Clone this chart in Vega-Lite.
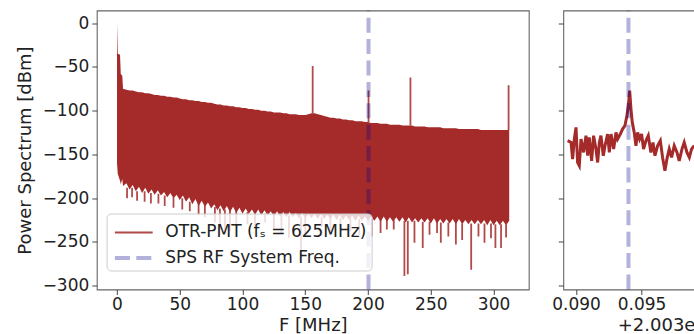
{
  "$schema": "https://vega.github.io/schema/vega-lite/v6.json",
  "background": "white",
  "padding": {"left": 14.8, "top": 7.5, "right": 0, "bottom": 0},
  "datasets": {
    "band": [
      {"f":0,"hi":0,"lo":-160},{"f":0.6,"hi":-35,"lo":-172},{"f":2.4,"hi":-36,"lo":-180},{"f":3.0,"hi":-58,"lo":-184},{"f":4.2,"hi":-60,"lo":-178},{"f":4.8,"hi":-75,"lo":-186},
      {"f":7.5,"hi":-76,"lo":-183},{"f":10,"hi":-77,"lo":-190},{"f":12.5,"hi":-77,"lo":-185},{"f":15,"hi":-78,"lo":-192},{"f":17.5,"hi":-79,"lo":-187},{"f":20,"hi":-79,"lo":-194},
      {"f":22.5,"hi":-80,"lo":-188},{"f":25,"hi":-80,"lo":-195},{"f":27.5,"hi":-81,"lo":-190},{"f":30,"hi":-82,"lo":-196},{"f":32.5,"hi":-82,"lo":-191},{"f":35,"hi":-83,"lo":-197},
      {"f":37.5,"hi":-83,"lo":-193},{"f":40,"hi":-84,"lo":-199},{"f":42.5,"hi":-84,"lo":-194},{"f":45,"hi":-85,"lo":-200},{"f":47.5,"hi":-85,"lo":-196},{"f":50,"hi":-86,"lo":-202},
      {"f":52.5,"hi":-87,"lo":-197},{"f":55,"hi":-87,"lo":-204},{"f":57.5,"hi":-88,"lo":-199},{"f":60,"hi":-88,"lo":-207},{"f":62.5,"hi":-89,"lo":-201},{"f":65,"hi":-89,"lo":-209},
      {"f":67.5,"hi":-90,"lo":-203},{"f":70,"hi":-90,"lo":-210},{"f":72.5,"hi":-91,"lo":-205},{"f":75,"hi":-91,"lo":-212},{"f":77.5,"hi":-92,"lo":-207},{"f":80,"hi":-93,"lo":-214},
      {"f":82.5,"hi":-93,"lo":-208},{"f":85,"hi":-94,"lo":-215},{"f":87.5,"hi":-94,"lo":-209},{"f":90,"hi":-95,"lo":-216},{"f":92.5,"hi":-95,"lo":-210},{"f":95,"hi":-96,"lo":-217},
      {"f":97.5,"hi":-96,"lo":-211},{"f":100,"hi":-97,"lo":-218},{"f":102.5,"hi":-97,"lo":-212},{"f":105,"hi":-98,"lo":-218},{"f":107.5,"hi":-98,"lo":-213},{"f":110,"hi":-99,"lo":-219},
      {"f":112.5,"hi":-99,"lo":-213},{"f":115,"hi":-100,"lo":-220},{"f":117.5,"hi":-100,"lo":-214},{"f":120,"hi":-101,"lo":-220},{"f":122.5,"hi":-101,"lo":-215},{"f":125,"hi":-102,"lo":-221},
      {"f":127.5,"hi":-102,"lo":-215},{"f":130,"hi":-102,"lo":-221},{"f":132.5,"hi":-103,"lo":-216},{"f":135,"hi":-103,"lo":-222},{"f":137.5,"hi":-104,"lo":-216},{"f":140,"hi":-104,"lo":-222},
      {"f":142.5,"hi":-104,"lo":-217},{"f":145,"hi":-105,"lo":-223},{"f":147.5,"hi":-105,"lo":-217},{"f":150,"hi":-105,"lo":-223},{"f":152.5,"hi":-104,"lo":-218},{"f":155,"hi":-103,"lo":-223},
      {"f":157.5,"hi":-103,"lo":-218},{"f":160,"hi":-104,"lo":-224},{"f":162.5,"hi":-105,"lo":-218},{"f":165,"hi":-106,"lo":-224},{"f":167.5,"hi":-107,"lo":-219},{"f":170,"hi":-108,"lo":-224},
      {"f":172.5,"hi":-108,"lo":-219},{"f":175,"hi":-109,"lo":-225},{"f":177.5,"hi":-109,"lo":-219},{"f":180,"hi":-110,"lo":-225},{"f":182.5,"hi":-110,"lo":-220},{"f":185,"hi":-111,"lo":-225},
      {"f":187.5,"hi":-111,"lo":-220},{"f":190,"hi":-112,"lo":-226},{"f":192.5,"hi":-112,"lo":-220},{"f":195,"hi":-112,"lo":-226},{"f":197.5,"hi":-113,"lo":-221},{"f":200,"hi":-113,"lo":-226},
      {"f":202.5,"hi":-114,"lo":-221},{"f":205,"hi":-114,"lo":-226},{"f":207.5,"hi":-114,"lo":-221},{"f":210,"hi":-115,"lo":-227},{"f":212.5,"hi":-115,"lo":-221},{"f":215,"hi":-115,"lo":-227},
      {"f":217.5,"hi":-116,"lo":-222},{"f":220,"hi":-116,"lo":-227},{"f":222.5,"hi":-116,"lo":-222},{"f":225,"hi":-116,"lo":-227},{"f":227.5,"hi":-117,"lo":-222},{"f":230,"hi":-117,"lo":-228},
      {"f":232.5,"hi":-117,"lo":-222},{"f":235,"hi":-117,"lo":-228},{"f":237.5,"hi":-118,"lo":-223},{"f":240,"hi":-118,"lo":-228},{"f":242.5,"hi":-118,"lo":-223},{"f":245,"hi":-118,"lo":-228},
      {"f":247.5,"hi":-119,"lo":-223},{"f":250,"hi":-119,"lo":-229},{"f":252.5,"hi":-119,"lo":-223},{"f":255,"hi":-119,"lo":-229},{"f":257.5,"hi":-119,"lo":-224},{"f":260,"hi":-120,"lo":-229},
      {"f":262.5,"hi":-120,"lo":-224},{"f":265,"hi":-120,"lo":-229},{"f":267.5,"hi":-120,"lo":-224},{"f":270,"hi":-120,"lo":-230},{"f":272.5,"hi":-121,"lo":-224},{"f":275,"hi":-121,"lo":-230},
      {"f":277.5,"hi":-121,"lo":-225},{"f":280,"hi":-121,"lo":-230},{"f":282.5,"hi":-121,"lo":-225},{"f":285,"hi":-121,"lo":-230},{"f":287.5,"hi":-121,"lo":-225},{"f":290,"hi":-122,"lo":-230},
      {"f":292.5,"hi":-122,"lo":-225},{"f":295,"hi":-122,"lo":-231},{"f":297.5,"hi":-122,"lo":-225},{"f":300,"hi":-122,"lo":-231},{"f":302.5,"hi":-122,"lo":-226},{"f":305,"hi":-122,"lo":-231},
      {"f":307.5,"hi":-122,"lo":-226},{"f":310,"hi":-122,"lo":-231},{"f":312.5,"hi":-122,"lo":-226}
    ],
    "lines": [
      {"f":8,"from":-188,"to":-200,"series":"OTR-PMT (fₛ = 625MHz)"},{"f":12,"from":-188,"to":-199,"series":"OTR-PMT (fₛ = 625MHz)"},{"f":16,"from":-192,"to":-203,"series":"OTR-PMT (fₛ = 625MHz)"},
      {"f":22,"from":-192,"to":-204,"series":"OTR-PMT (fₛ = 625MHz)"},{"f":27,"from":-194,"to":-206,"series":"OTR-PMT (fₛ = 625MHz)"},{"f":33,"from":-195,"to":-206,"series":"OTR-PMT (fₛ = 625MHz)"},
      {"f":38,"from":-197,"to":-209,"series":"OTR-PMT (fₛ = 625MHz)"},{"f":45,"from":-199,"to":-211,"series":"OTR-PMT (fₛ = 625MHz)"},{"f":52,"from":-200,"to":-213,"series":"OTR-PMT (fₛ = 625MHz)"},
      {"f":58,"from":-204,"to":-215,"series":"OTR-PMT (fₛ = 625MHz)"},{"f":65,"from":-206,"to":-219,"series":"OTR-PMT (fₛ = 625MHz)"},{"f":70,"from":-208,"to":-222,"series":"OTR-PMT (fₛ = 625MHz)"},
      {"f":78,"from":-210,"to":-228,"series":"OTR-PMT (fₛ = 625MHz)"},{"f":82,"from":-212,"to":-236,"series":"OTR-PMT (fₛ = 625MHz)"},{"f":86,"from":-213,"to":-240,"series":"OTR-PMT (fₛ = 625MHz)"},
      {"f":90,"from":-214,"to":-238,"series":"OTR-PMT (fₛ = 625MHz)"},{"f":95,"from":-215,"to":-232,"series":"OTR-PMT (fₛ = 625MHz)"},{"f":104,"from":-216,"to":-230,"series":"OTR-PMT (fₛ = 625MHz)"},
      {"f":110,"from":-217,"to":-234,"series":"OTR-PMT (fₛ = 625MHz)"},{"f":118,"from":-218,"to":-228,"series":"OTR-PMT (fₛ = 625MHz)"},{"f":125,"from":-219,"to":-236,"series":"OTR-PMT (fₛ = 625MHz)"},
      {"f":131,"from":-219,"to":-240,"series":"OTR-PMT (fₛ = 625MHz)"},{"f":137,"from":-220,"to":-245,"series":"OTR-PMT (fₛ = 625MHz)"},{"f":146.6,"from":-221,"to":-259,"series":"OTR-PMT (fₛ = 625MHz)"},
      {"f":150,"from":-221,"to":-240,"series":"OTR-PMT (fₛ = 625MHz)"},{"f":163,"from":-222,"to":-233,"series":"OTR-PMT (fₛ = 625MHz)"},{"f":170,"from":-222,"to":-238,"series":"OTR-PMT (fₛ = 625MHz)"},
      {"f":178,"from":-223,"to":-236,"series":"OTR-PMT (fₛ = 625MHz)"},{"f":186,"from":-223,"to":-238,"series":"OTR-PMT (fₛ = 625MHz)"},{"f":193,"from":-224,"to":-242,"series":"OTR-PMT (fₛ = 625MHz)"},
      {"f":203,"from":-224,"to":-244,"series":"OTR-PMT (fₛ = 625MHz)"},{"f":210,"from":-225,"to":-240,"series":"OTR-PMT (fₛ = 625MHz)"},{"f":215,"from":-225,"to":-236,"series":"OTR-PMT (fₛ = 625MHz)"},
      {"f":220.5,"from":-225,"to":-236,"series":"OTR-PMT (fₛ = 625MHz)"},{"f":229,"from":-226,"to":-289,"series":"OTR-PMT (fₛ = 625MHz)"},{"f":231.7,"from":-226,"to":-287,"series":"OTR-PMT (fₛ = 625MHz)"},
      {"f":237,"from":-226,"to":-251,"series":"OTR-PMT (fₛ = 625MHz)"},{"f":243.6,"from":-227,"to":-257,"series":"OTR-PMT (fₛ = 625MHz)"},{"f":249,"from":-227,"to":-242,"series":"OTR-PMT (fₛ = 625MHz)"},
      {"f":255,"from":-227,"to":-240,"series":"OTR-PMT (fₛ = 625MHz)"},{"f":258,"from":-228,"to":-251,"series":"OTR-PMT (fₛ = 625MHz)"},{"f":264,"from":-228,"to":-244,"series":"OTR-PMT (fₛ = 625MHz)"},
      {"f":270,"from":-228,"to":-253,"series":"OTR-PMT (fₛ = 625MHz)"},{"f":275,"from":-229,"to":-248,"series":"OTR-PMT (fₛ = 625MHz)"},{"f":282.2,"from":-229,"to":-282,"series":"OTR-PMT (fₛ = 625MHz)"},
      {"f":288,"from":-229,"to":-244,"series":"OTR-PMT (fₛ = 625MHz)"},{"f":292.8,"from":-229,"to":-251,"series":"OTR-PMT (fₛ = 625MHz)"},{"f":298,"from":-229,"to":-246,"series":"OTR-PMT (fₛ = 625MHz)"},
      {"f":301.5,"from":-230,"to":-257,"series":"OTR-PMT (fₛ = 625MHz)"},{"f":306,"from":-230,"to":-257,"series":"OTR-PMT (fₛ = 625MHz)"},{"f":310,"from":-230,"to":-245,"series":"OTR-PMT (fₛ = 625MHz)"},
      {"f":155.9,"from":-103,"to":-49,"series":"OTR-PMT (fₛ = 625MHz)"},{"f":200.4,"from":-113,"to":-77,"series":"OTR-PMT (fₛ = 625MHz)"},{"f":233.8,"from":-117,"to":-62,"series":"OTR-PMT (fₛ = 625MHz)"},
      {"f":312,"from":-122,"to":-71,"series":"OTR-PMT (fₛ = 625MHz)"},
      {"f":200.394,"from":-304.5,"to":14.6,"series":"SPS RF System Freq."}
    ],
    "zoom": [
      {"x":0.08936,"p":-134.3},{"x":0.08962,"p":-136.3},{"x":0.08974,"p":-155.4},{"x":0.08987,"p":-132.5},{"x":0.09000,"p":-119.1},{"x":0.09012,"p":-159.2},
      {"x":0.09025,"p":-163},{"x":0.09038,"p":-132.5},{"x":0.09058,"p":-147.7},{"x":0.09076,"p":-128.6},{"x":0.09089,"p":-151.5},{"x":0.09101,"p":-130.5},
      {"x":0.09119,"p":-157.3},{"x":0.09134,"p":-128.6},{"x":0.09152,"p":-143.9},{"x":0.09165,"p":-159.2},{"x":0.09178,"p":-136.3},{"x":0.09190,"p":-128.6},
      {"x":0.09208,"p":-151.5},{"x":0.09221,"p":-140.1},{"x":0.09241,"p":-126.7},{"x":0.09254,"p":-147.7},{"x":0.09267,"p":-126.7},{"x":0.09287,"p":-143.9},
      {"x":0.09305,"p":-124.8},{"x":0.09317,"p":-132.5},{"x":0.09338,"p":-126.7},{"x":0.09355,"p":-121},{"x":0.09373,"p":-117.2},{"x":0.09388,"p":-105.7},
      {"x":0.09399,"p":-94.3},{"x":0.09409,"p":-77},{"x":0.09419,"p":-98.1},{"x":0.09429,"p":-113.4},{"x":0.09444,"p":-124.8},{"x":0.09457,"p":-140.1},
      {"x":0.09470,"p":-124.8},{"x":0.09485,"p":-132.5},{"x":0.09500,"p":-126.7},{"x":0.09515,"p":-143.9},{"x":0.09533,"p":-134.4},{"x":0.09551,"p":-128.6},
      {"x":0.09571,"p":-147.7},{"x":0.09587,"p":-136.3},{"x":0.09602,"p":-151.5},{"x":0.09622,"p":-140.1},{"x":0.09643,"p":-134.4},{"x":0.09660,"p":-153.4},
      {"x":0.09678,"p":-168.7},{"x":0.09693,"p":-155.4},{"x":0.09711,"p":-143.9},{"x":0.09729,"p":-153.4},{"x":0.09749,"p":-140.1},{"x":0.09770,"p":-147.7},
      {"x":0.09787,"p":-157.3},{"x":0.09808,"p":-143.9},{"x":0.09825,"p":-136.3},{"x":0.09846,"p":-147.7},{"x":0.09864,"p":-153.4},{"x":0.09881,"p":-143.9},
      {"x":0.09901,"p":-140}
    ],
    "zoomline": [{"x":0.094,"from":-304.5,"to":14.6}]
  },
  "spacing": 34.5,
  "bounds": "flush",
  "resolve": {
    "scale": {"color":"independent","strokeDash":"independent","strokeWidth":"independent","opacity":"independent"},
    "legend": {"color":"independent","strokeDash":"independent","strokeWidth":"independent","opacity":"independent"}
  },
  "hconcat": [
    {
      "width": 432,
      "height": 279,
      "layer": [
        {
          "data": {"name": "band"},
          "mark": {"type": "area", "color": "#a52a2a", "interpolate": "linear"},
          "encoding": {
            "x": {"field": "f", "type": "quantitative",
              "scale": {"domain": [-16.1, 328.1], "nice": false, "zero": false},
              "axis": {"values": [0,50,100,150,200,250,300], "title": "F [MHz]", "titleY": 41, "titleBaseline": "alphabetic", "labelFlush": false}},
            "y": {"field": "hi", "type": "quantitative",
              "scale": {"domain": [-304.5, 14.6], "nice": false, "zero": false},
              "axis": {"values": [-300,-250,-200,-150,-100,-50,0], "title": "Power Spectrum [dBm]", "titleX": -66.5, "titleY": 139.5, "titleBaseline": "alphabetic", "labelPadding": 3, "labelFlush": false}},
            "y2": {"field": "lo"}
          }
        },
        {
          "data": {"name": "lines"},
          "mark": {"type": "rule"},
          "encoding": {
            "x": {"field": "f", "type": "quantitative"},
            "y": {"field": "from", "type": "quantitative"},
            "y2": {"field": "to"},
            "color": {"field": "series", "type": "nominal",
              "scale": {"domain": ["OTR-PMT (fₛ = 625MHz)", "SPS RF System Freq."], "range": ["#a52a2a", "#00008b"]},
              "legend": {"title": null}},
            "strokeDash": {"field": "series", "type": "nominal",
              "scale": {"domain": ["OTR-PMT (fₛ = 625MHz)", "SPS RF System Freq."], "range": [[1,0],[15,6.4]]},
              "legend": {"title": null}},
            "strokeWidth": {"field": "series", "type": "nominal",
              "scale": {"domain": ["OTR-PMT (fₛ = 625MHz)", "SPS RF System Freq."], "range": [1.8, 4]},
              "legend": {"title": null}},
            "opacity": {"field": "series", "type": "nominal",
              "scale": {"domain": ["OTR-PMT (fₛ = 625MHz)", "SPS RF System Freq."], "range": [0.85, 0.3]},
              "legend": {"title": null}}
          }
        }
      ]
    },
    {
      "width": 131,
      "height": 279,
      "layer": [
        {
          "data": {"name": "zoom"},
          "mark": {"type": "line", "color": "#a52a2a", "strokeWidth": 3, "clip": true},
          "encoding": {
            "x": {"field": "x", "type": "quantitative",
              "scale": {"domain": [0.08903, 0.09902], "nice": false, "zero": false},
              "axis": {"values": [0.09, 0.095], "format": ".3f", "title": "+2.003e2", "titleX": 54, "titleAlign": "left", "titleAnchor": "start", "titleY": 41, "titleBaseline": "alphabetic", "labelFlush": false}},
            "y": {"field": "p", "type": "quantitative",
              "scale": {"domain": [-304.5, 14.6], "nice": false, "zero": false},
              "axis": {"values": [-300,-250,-200,-150,-100,-50,0], "labels": false, "title": null}}
          }
        },
        {
          "data": {"name": "zoomline"},
          "mark": {"type": "rule", "color": "#00008b", "strokeOpacity": 0.3, "strokeWidth": 4, "strokeDash": [15, 6.4]},
          "encoding": {
            "x": {"field": "x", "type": "quantitative"},
            "y": {"field": "from", "type": "quantitative"},
            "y2": {"field": "to"}
          }
        }
      ]
    }
  ],
  "config": {
    "font": "DejaVu Sans",
    "view": {"stroke": "#666666", "strokeWidth": 1.1},
    "axis": {
      "labelFont": "DejaVu Sans", "titleFont": "DejaVu Sans",
      "labelFontSize": 17, "titleFontSize": 18, "titleFontWeight": "normal",
      "labelColor": "#222222", "titleColor": "#222222",
      "tickColor": "#444444", "tickSize": 5, "labelPadding": 2,
      "domain": false, "grid": false, "labelOverlap": false
    },
    "legend": {
      "orient": "none", "legendX": 9.8, "legendY": 203,
      "symbolType": "M-1.4,0H1.4", "symbolSize": 729,
      "padding": 4.5, "symbolOffset": 7.2, "labelOffset": 16, "rowPadding": 1.5,
      "fillColor": "rgba(255,255,255,0.8)", "strokeColor": "#cccccc", "cornerRadius": 4,
      "labelFont": "DejaVu Sans", "labelFontSize": 17, "labelColor": "#222222", "labelLimit": 0
    }
  }
}
